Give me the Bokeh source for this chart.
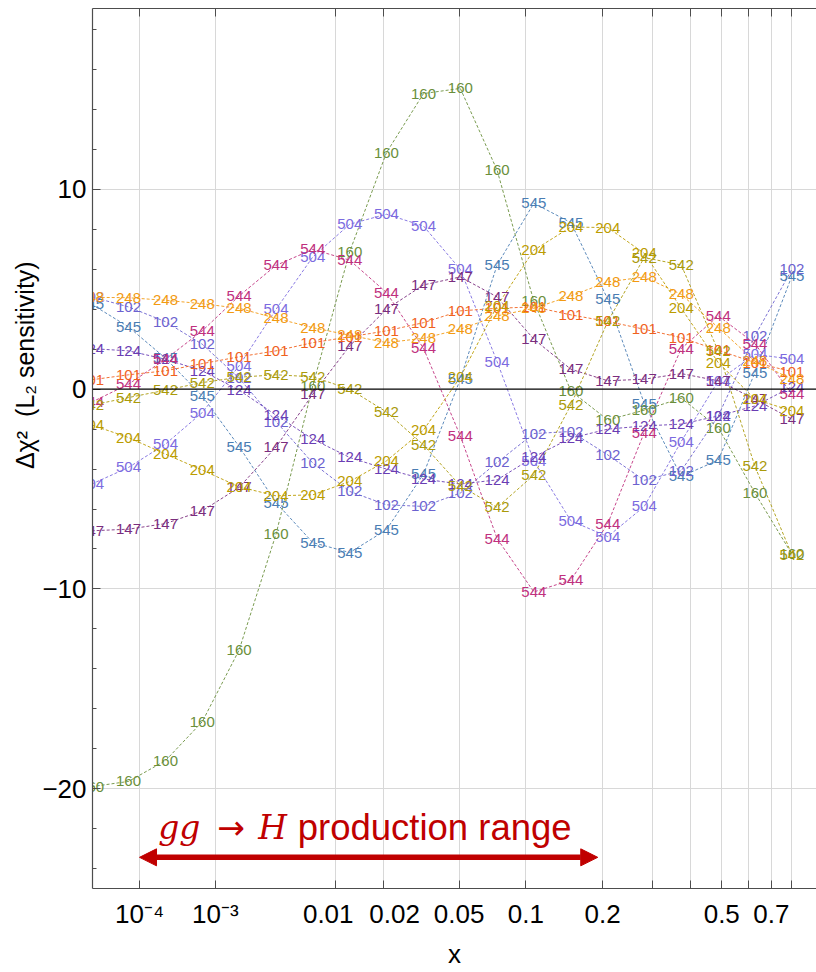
import numpy as np
from bokeh.plotting import figure
from bokeh.models import (ColumnDataSource, Range1d, LinearAxis, FixedTicker,
                          CustomJSTickFormatter, Span, Label, Arrow, NormalHead)
from bokeh.core.properties import value
from bokeh.embed import file_html
from bokeh.resources import INLINE

# ---------------- data ----------------
x_points = [1.0e-5, 6.4e-5, 2.49e-4, 7.2e-4, 1.73e-3, 3.65e-3, 6.97e-3, 0.0124,
            0.0207, 0.0331, 0.0507, 0.0751, 0.108, 0.152, 0.209, 0.281, 0.373,
            0.488, 0.628, 0.800]

exp_ids = ["545", "160", "102", "504", "124", "147", "544", "101", "248", "204", "542"]

d545 = [4.25, 3.12, 1.55, -0.34, -2.87, -5.68, -7.68, -8.18, -7.04, -4.25,
        0.5, 6.22, 9.31, 8.34, 4.5, -0.72, -4.37, -3.55, 0.83, 5.67]
d160 = [-19.9, -19.64, -18.6, -16.65, -13.06, -7.26, 0.17, 6.89, 11.84, 14.8,
        15.06, 10.96, 4.4, -0.09, -1.54, -1.05, -0.45, -1.92, -5.2, -8.26]
d102 = [4.62, 4.12, 3.38, 2.25, 0.55, -1.62, -3.7, -5.12, -5.79, -5.87,
        -5.2, -3.67, -2.22, -2.12, -3.29, -4.56, -4.09, -1.34, 2.67, 6.0]
d504 = [-4.75, -3.92, -2.75, -1.17, 1.17, 4.0, 6.62, 8.26, 8.76, 8.17,
        6.0, 1.38, -3.59, -6.59, -7.38, -5.87, -2.62, 0.42, 1.75, 1.5]
d124 = [2.03, 1.92, 1.5, 0.92, -0.05, -1.3, -2.5, -3.42, -4.0, -4.5,
        -4.75, -4.54, -3.39, -2.45, -2.0, -1.84, -1.75, -1.34, -0.84, 0.12]
d147 = [-7.09, -7.01, -6.73, -6.09, -4.92, -2.89, -0.25, 2.17, 4.0, 5.22,
        5.62, 4.62, 2.5, 1.0, 0.42, 0.5, 0.78, 0.42, -0.5, -1.5]
d544 = [-0.65, 0.25, 1.5, 2.92, 4.67, 6.2, 7.0, 6.46, 4.84, 2.05,
        -2.34, -7.48, -10.15, -9.56, -6.73, -2.17, 2.03, 3.67, 2.28, -0.25]
d101 = [0.47, 0.72, 0.92, 1.28, 1.62, 1.92, 2.33, 2.62, 2.92, 3.33,
        3.92, 4.05, 4.12, 3.72, 3.39, 3.0, 2.58, 1.95, 1.33, 0.88]
d248 = [4.6, 4.58, 4.45, 4.28, 4.05, 3.55, 3.08, 2.7, 2.33, 2.55,
        3.0, 3.67, 4.05, 4.67, 5.37, 5.62, 4.75, 3.08, 1.4, 0.5]
d204 = [-1.79, -2.42, -3.25, -4.05, -4.89, -5.34, -5.29, -4.62, -3.59, -2.05,
        0.6, 4.17, 6.96, 8.12, 8.09, 6.8, 4.05, 1.33, -0.5, -1.09]
d542 = [-0.8, -0.42, -0.05, 0.33, 0.6, 0.72, 0.62, 0.0, -1.14, -2.79,
        -4.84, -5.92, -4.3, -0.79, 3.39, 6.59, 6.22, 1.9, -3.87, -8.29]

series_values = {"545": d545, "160": d160, "102": d102, "504": d504, "124": d124,
                 "147": d147, "544": d544, "101": d101, "248": d248, "204": d204,
                 "542": d542}
series_colors = {"545": "#4a7db3", "160": "#6a8f3b", "102": "#6c62cf",
                 "504": "#7c6be0", "124": "#6a3db3", "147": "#7a2d7e",
                 "544": "#c0307e", "101": "#f0621e", "248": "#f29a12",
                 "204": "#bb9c00", "542": "#aa9a0a"}

NB = "\u00a0"
tick_x = [1e-4, 1e-3, 0.01, 0.02, 0.05, 0.1, 0.2, 0.3, 0.4, 0.5, 0.6, 0.7, 0.8]
tick_text = ["10\u207b\u2074", "10\u207b\u00b3", "0.01" + NB * 2, NB * 3 + "0.02", "0.05",
             "0.1", "0.2", "", "", "0.5", "", "0.7", ""]
y_major = [-20, -10, 0, 10]
y_minor = list(range(-24, 20, 2))
y_grid = [-20, -10, 10]

X_LO, X_HI = 1.05e-5, 0.934
Y_LO, Y_HI = -25.0, 19.06

x_title = "x"
y_title = NB * 24 + "\u0394\u03c7\u00b2" + NB * 2 + "(L\u2082 sensitivity)"

# annotation anchors (in data units)
ARROW_X = (1e-4, 0.192)
ARROW_Y = -23.44
TEXT_Y = -21.96
TEXT_X = {"gg": 1.96e-4, "arrow": 1.05e-3, "H": 2.58e-3, "prod": 5.4e-3}
RED = "#c00000"

POW = 0.2  # axis uses an x^0.2 scale


def fwd(v):
    return np.asarray(v, dtype=float) ** POW


u = fwd(x_points)
u_ticks = [float(t) for t in fwd(tick_x)]

FONT = "Liberation Sans"
FRAME = "#4d4d4d"

p = figure(width=816, height=972, output_backend="svg", toolbar_location=None,
           x_range=Range1d(*[float(v) for v in fwd([X_LO, X_HI])]),
           y_range=Range1d(Y_LO, Y_HI),
           min_border_left=92, min_border_right=0, min_border_top=8,
           min_border_bottom=84)
p.outline_line_color = None
p.background_fill_color = "white"
p.border_fill_color = "white"

# grids
p.xgrid.ticker = FixedTicker(ticks=u_ticks)
p.ygrid.ticker = FixedTicker(ticks=y_grid)
for g in (p.xgrid[0], p.ygrid[0]):
    g.grid_line_color = "#d8d8d8"
    g.grid_line_width = 1

# bottom axis
xax = p.xaxis[0]
xax.ticker = FixedTicker(ticks=u_ticks)
xax.formatter = CustomJSTickFormatter(args=dict(tvals=u_ticks, tlabels=tick_text), code="""
for (let i = 0; i < tvals.length; i++) {
  if (Math.abs(tvals[i] - tick) < 1e-9) { return tlabels[i]; }
}
return "";
""")
# left axis
yax = p.yaxis[0]
yax.ticker = FixedTicker(ticks=y_major, minor_ticks=y_minor)
yax.formatter = CustomJSTickFormatter(code="return tick < 0 ? '\\u2212' + (-tick) : '' + tick;")

for ax in (xax, yax):
    ax.axis_line_color = FRAME
    ax.axis_line_width = 1.2
    ax.major_tick_line_color = FRAME
    ax.minor_tick_line_color = FRAME
    ax.major_tick_in = 8
    ax.major_tick_out = 0
    ax.minor_tick_in = 4
    ax.minor_tick_out = 0
    ax.major_label_text_font = FONT
    ax.major_label_text_font_size = "26px"
    ax.major_label_text_color = "black"
    ax.axis_label_text_font = FONT
    ax.axis_label_text_font_style = "normal"
    ax.axis_label_text_color = "black"
xax.major_label_standoff = 10
yax.major_label_standoff = 6

xax.axis_label = x_title
xax.axis_label_text_font_size = "26px"
xax.axis_label_standoff = 7
yax.axis_label = y_title
yax.axis_label_text_font_size = "25px"
yax.axis_label_standoff = 0

top = LinearAxis(ticker=FixedTicker(ticks=u_ticks),
                 formatter=CustomJSTickFormatter(code="return '';"),
                 axis_line_color=FRAME, axis_line_width=1.2,
                 major_tick_line_color=FRAME, major_tick_in=8, major_tick_out=0,
                 minor_tick_line_color=None, major_label_standoff=0,
                 major_label_text_font_size="0px")
p.add_layout(top, "above")

p.add_layout(Span(location=0, dimension="width", line_color="black", line_width=1.2))

# series
sources = {}
for sid in exp_ids:
    sources[sid] = ColumnDataSource(dict(u=u, y=series_values[sid], lab=[sid] * len(u)))
    p.line("u", "y", source=sources[sid], line_color=series_colors[sid],
           line_dash="3 2", line_width=0.9)
for sid in exp_ids:
    p.text("u", "y", text="lab", source=sources[sid], text_align="center",
           text_baseline="middle", text_color=series_colors[sid],
           text_font=value(FONT), text_font_size="15px")

# annotation
p.add_layout(Arrow(start=NormalHead(size=17, fill_color=RED, line_color=RED),
                   end=NormalHead(size=17, fill_color=RED, line_color=RED),
                   x_start=float(fwd(ARROW_X[0])), y_start=ARROW_Y,
                   x_end=float(fwd(ARROW_X[1])), y_end=ARROW_Y,
                   line_color=RED, line_width=5.5))
p.add_layout(Label(x=float(fwd(TEXT_X["gg"])), y=TEXT_Y, text="gg",
                   text_font="DejaVu Serif", text_font_style="italic",
                   text_font_size="33px", text_color=RED, text_baseline="alphabetic"))
p.add_layout(Label(x=float(fwd(TEXT_X["arrow"])), y=TEXT_Y, text="\u2192",
                   text_font="DejaVu Sans", text_font_size="33px", text_color=RED,
                   text_baseline="alphabetic"))
p.add_layout(Label(x=float(fwd(TEXT_X["H"])), y=TEXT_Y, text="H",
                   text_font="DejaVu Serif", text_font_style="italic",
                   text_font_size="33px", text_color=RED, text_baseline="alphabetic"))
p.add_layout(Label(x=float(fwd(TEXT_X["prod"])), y=TEXT_Y, text="production range",
                   text_font=FONT, text_font_size="36.5px", text_color=RED,
                   text_baseline="alphabetic"))

open("out.html", "w").write(file_html(p, INLINE))
